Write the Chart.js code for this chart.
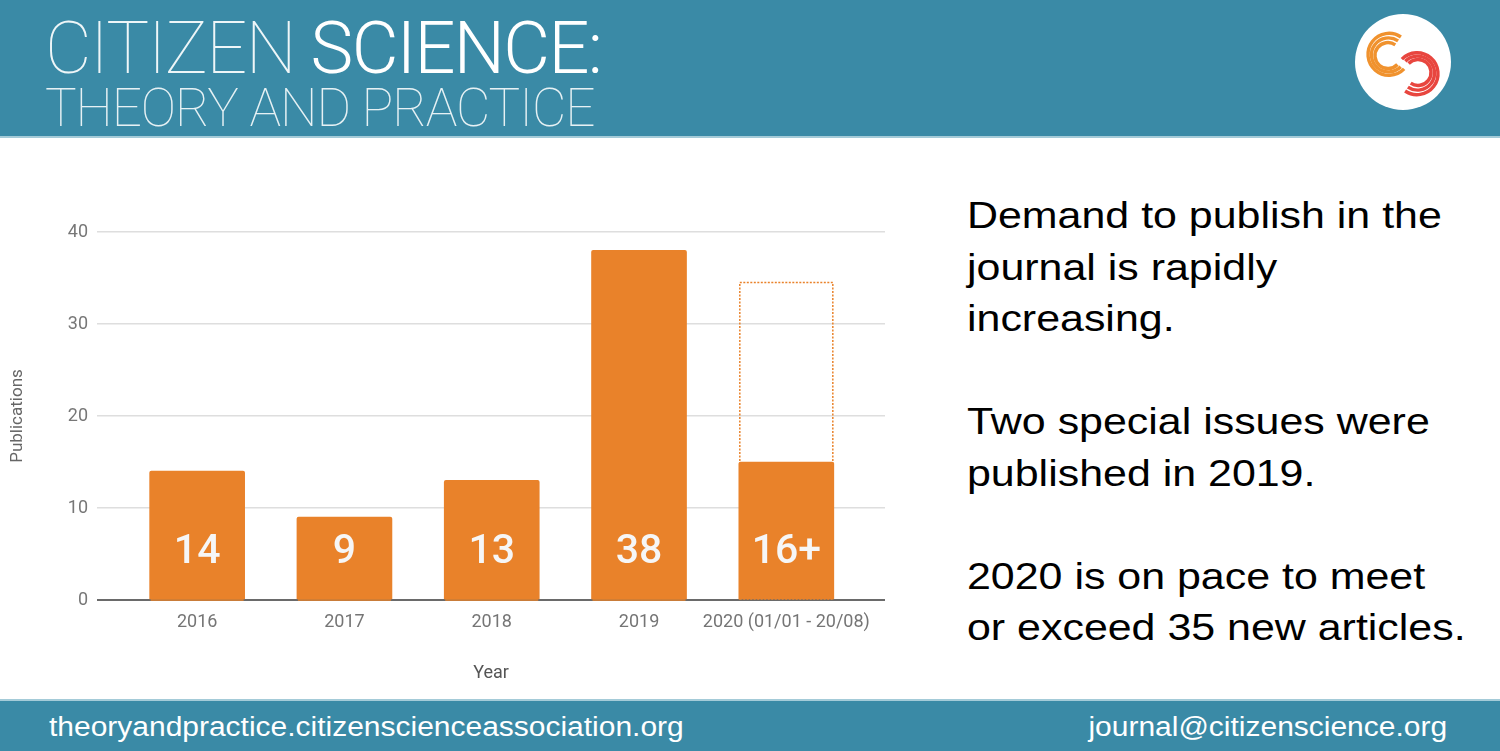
<!DOCTYPE html>
<html>
<head>
<meta charset="utf-8">
<script src="https://cdn.jsdelivr.net/npm/chart.js@4.4.1/dist/chart.umd.min.js"></script>
<style>
  html, body { margin: 0; padding: 0; }
  body { width: 1500px; height: 751px; position: relative; overflow: hidden; background: #fff; font-family: "Liberation Sans", Arial, sans-serif; }
  #header { position: absolute; left: 0; top: 0; width: 1500px; height: 136px; background: #3a8aa6; border-bottom: 2px solid #a4cbd8; }
  .title1 { position: absolute; left: 45px; top: 13px; font-family: Roboto, sans-serif; font-weight: 100; font-size: 72px; line-height: 72px; letter-spacing: -1.6px; color: #eef6f8; white-space: nowrap; }
  .title1 b { font-weight: 300; color: #fff; }
  .title2 { position: absolute; left: 45px; top: 82px; font-family: Roboto, sans-serif; font-weight: 100; font-size: 53px; line-height: 53px; letter-spacing: -1.1px; color: #e6f1f4; white-space: nowrap; }
  #logo { position: absolute; left: 1350px; top: 10px; }
  #chartBox { position: absolute; left: 0; top: 140px; width: 900px; height: 555px; }
  #notes { position: absolute; left: 967px; top: 190px; font-size: 37px; line-height: 51.5px; color: #000; white-space: nowrap; transform: scaleX(1.16); transform-origin: 0 0; }
  #notes p { margin: 0 0 51.5px 0; }
  #footer { position: absolute; left: 0; top: 699px; width: 1500px; height: 52px; background: #3a8aa6; border-top: 2px solid #a4cbd8; color: #fff; font-size: 27px; line-height: 52px; }
  #footer .l { position: absolute; left: 49px; top: 0; white-space: nowrap; transform: scaleX(1.11); transform-origin: 0 0; }
  #footer .r { position: absolute; right: 53px; top: 0; white-space: nowrap; transform: scaleX(1.11); transform-origin: 100% 0; }
</style>
</head>
<body>
<div id="header">
  <div class="title1">CITIZEN <b>SCIENCE:</b></div>
  <div class="title2">THEORY AND PRACTICE</div>
  <svg id="logo" width="110" height="110" viewBox="0 0 110 110">
    <circle cx="53" cy="52" r="48" fill="#fff"/>
    <g fill="none" stroke="#f0922e" stroke-width="3.4">
      <path d="M 48.1 30.9 A 17 17 0 1 0 50.7 56.7"/>
      <path d="M 50.9 27.0 A 21 21 0 1 0 54.1 58.9"/>
      <path d="M 45.3 34.8 A 13 13 0 1 0 47.4 54.5"/>
    </g>
    <g fill="none" stroke="#e8463f" stroke-width="3.4">
      <path d="M 57.9 77.1 A 17 17 0 1 0 55.3 51.3"/>
      <path d="M 55.1 81.0 A 21 21 0 1 0 51.9 49.1"/>
      <path d="M 60.7 73.2 A 13 13 0 1 0 58.6 53.5"/>
    </g>
  </svg>
</div>

<div id="chartBox"><canvas id="chart"></canvas></div>

<div id="notes">
  <p>Demand to publish in the<br>journal is rapidly<br>increasing.</p>
  <p>Two special issues were<br>published in 2019.</p>
  <p>2020 is on pace to meet<br>or exceed 35 new articles.</p>
</div>

<div id="footer">
  <span class="l">theoryandpractice.citizenscienceassociation.org</span>
  <span class="r">journal@citizenscience.org</span>
</div>

<script>
const years = ['2016', '2017', '2018', '2019', '2020 (01/01 - 20/08)'];
const publications = [14, 9, 13, 38, 15];
const barLabels = ['14', '9', '13', '38', '16+'];
const projected = [null, null, null, null, 34.5];
const yTicks = [0, 10, 20, 30, 40];

const orange = '#e9822a';

// dotted outline for the projected 2020 total, drawn under the solid bars
const projectionOutline = {
    id: 'projectionOutline',
    beforeDatasetsDraw(chart) {
        const ctx = chart.ctx;
        const meta = chart.getDatasetMeta(1);
        ctx.save();
        ctx.strokeStyle = orange;
        ctx.lineWidth = 1.5;
        ctx.setLineDash([2, 1.5]);
        meta.data.forEach(el => {
            if (el.skip) return;
            const x0 = el.x - el.width / 2 + 1;
            const x1 = el.x + el.width / 2 - 1;
            const y0 = el.y;
            ctx.strokeRect(x0, y0, x1 - x0, el.base - y0);
        });
        ctx.restore();
    }
};

// big white numbers inside the bars
const barText = {
    id: 'barText',
    afterDatasetsDraw(chart) {
        const ctx = chart.ctx;
        const meta = chart.getDatasetMeta(0);
        ctx.save();
        ctx.fillStyle = '#f6f6f6';
        ctx.font = '500 41px Roboto, sans-serif';
        ctx.textAlign = 'center';
        ctx.textBaseline = 'middle';
        meta.data.forEach((el, i) => {
            ctx.fillText(barLabels[i], el.x, el.base - 46);
        });
        ctx.restore();
    }
};

new Chart(document.getElementById('chart'), {
    type: 'bar',
    data: {
        datasets: [
            {
                label: 'Publications',
                data: publications.map((v, i) => ({x: i, y: v})),
                backgroundColor: orange,
                borderRadius: 2,
                barThickness: 95,
                grouped: false,
                order: 0
            },
            {
                label: 'Projected',
                data: projected.map((v, i) => ({x: i, y: v})),
                backgroundColor: 'rgba(0,0,0,0)',
                borderWidth: 0,
                barThickness: 95,
                grouped: false,
                order: 1
            }
        ]
    },
    options: {
        responsive: true,
        maintainAspectRatio: false,
        animation: false,
        layout: { padding: { top: 92, right: 15, left: 0, bottom: 0 } },
        plugins: {
            legend: { display: false },
            tooltip: { enabled: false }
        },
        scales: {
            x: {
                type: 'linear',
                offset: false,
                min: -0.68,
                max: 4.67,
                afterBuildTicks: scale => { scale.ticks = years.map((y, i) => ({value: i})); },
                afterFit: scale => { scale.height = 95; },
                grid: { display: false, drawTicks: false, offset: false },
                border: { display: false },
                ticks: {
                    autoSkip: false,
                    maxRotation: 0,
                    padding: 12,
                    color: '#757575',
                    font: { family: 'Roboto, sans-serif', size: 18 },
                    callback: value => years[value]
                },
                title: {
                    display: true,
                    text: 'Year',
                    color: '#555',
                    font: { family: 'Roboto, sans-serif', size: 18 },
                    padding: { top: 0, bottom: 11 }
                }
            },
            y: {
                min: 0,
                max: 40,
                afterBuildTicks: scale => { scale.ticks = yTicks.map(v => ({value: v})); },
                afterFit: scale => { scale.width = 97; },
                grid: {
                    drawTicks: false,
                    color: c => c.tick && c.tick.value === 0 ? '#6a6a6a' : '#dedede',
                    lineWidth: c => c.tick && c.tick.value === 0 ? 2 : 1.5
                },
                border: { display: false },
                ticks: {
                    padding: 9,
                    color: '#777',
                    font: { family: 'Roboto, sans-serif', size: 18 }
                },
                title: {
                    display: true,
                    text: 'Publications',
                    color: '#666',
                    font: { family: 'Roboto, sans-serif', size: 17 },
                    padding: { top: 8, bottom: 0 }
                }
            }
        }
    },
    plugins: [projectionOutline, barText]
});
</script>
</body>
</html>
